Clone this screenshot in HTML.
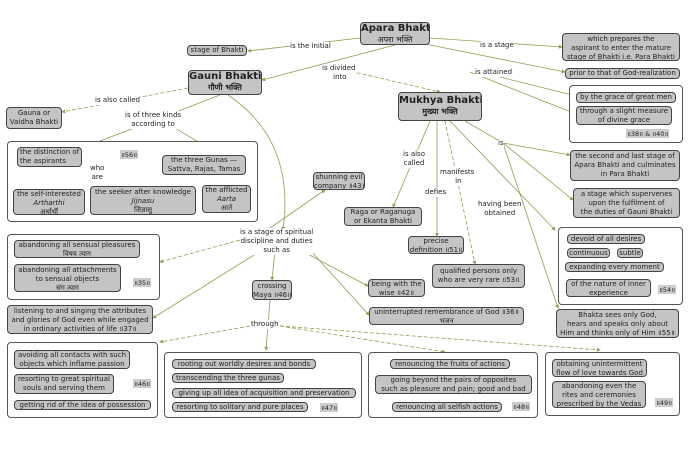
<!DOCTYPE html>
<html><head><meta charset="utf-8"><style>
body{margin:0;width:690px;height:456px;background:#fff;position:relative;overflow:hidden;font-family:"DejaVu Sans","Liberation Sans","Noto Sans CJK SC",sans-serif;font-size:7px;color:#222}
.n{position:absolute;background:#c4c4c4;border:1px solid #444;border-radius:4px;text-align:center;line-height:9px;box-sizing:border-box;padding:0;white-space:nowrap;overflow:hidden}
.c{position:absolute;border:1px solid #555;border-radius:4px;background:#fff;box-sizing:border-box}
.t{position:absolute;text-align:center;line-height:9px;white-space:nowrap;background:#fff}
.b{font-weight:bold;font-size:10px;line-height:11px}
.tag{position:absolute;background:#ccc;font-size:6.5px;padding:0 1px}
svg{position:absolute;left:0;top:0}
</style></head><body>
<svg width="690" height="456"><defs><marker id="a" markerWidth="5" markerHeight="5" refX="4" refY="2.5" orient="auto"><path d="M0 0 L5 2.5 L0 5z" fill="#9a9a55"/></marker></defs>
<g stroke="#9a9a55" stroke-width="0.8" fill="none" marker-end="url(#a)">
<path d="M360 38 L248 51"/><path d="M395 45 L262 80"/><path d="M345 70 L440 92" stroke-dasharray="4 2"/>
<path d="M430 38 L562 47"/><path d="M425 44 L565 72"/><path d="M480 72 L576 96"/><path d="M470 72 L576 114"/>
<path d="M188 88 L62 112" stroke-dasharray="4 2"/><path d="M220 95 L82 148"/><path d="M170 125 L220 155"/>
<path d="M85 172 L40 189"/><path d="M110 172 L140 186"/><path d="M110 172 L218 185" stroke-dasharray="4 2"/>
<path d="M228 95 C280 130 290 180 283 230"/><path d="M270 228 L325 190"/>
<path d="M430 121 L393 207"/><path d="M437 121 L437 236"/><path d="M445 121 L475 264" stroke-dasharray="4 2"/>
<path d="M450 121 L555 230"/><path d="M503 143 L570 155"/><path d="M503 143 L573 200"/><path d="M503 143 L558 308"/>
<path d="M240 240 L160 262" stroke-dasharray="4 2"/><path d="M262 250 L153 318"/><path d="M275 250 L272 280"/>
<path d="M300 250 L368 286"/><path d="M310 250 L369 315"/>
<path d="M270 300 L266 350"/><path d="M250 326 L160 342" stroke-dasharray="4 2"/>
<path d="M280 326 L445 352" stroke-dasharray="4 2"/><path d="M280 326 L600 350" stroke-dasharray="4 2"/>
</g><path d="M465 121 L503 143" stroke="#9a9a55" stroke-width="0.8"/></svg>
<div class="n b" style="left:360px;top:22px;width:70px;height:23px">Apara Bhakti<br><span style="font-weight:normal;font-size:8px">अपरा भक्ति</span></div>
<div class="n" style="left:187px;top:45px;width:60px;height:11px">stage of Bhakti</div>
<div class="t" style="left:290px;top:42px">is the initial</div>
<div class="n b" style="left:188px;top:70px;width:74px;height:25px">Gauni Bhakti<br><span style="font-size:8px">गौणी भक्ति</span></div>
<div class="t" style="left:322px;top:64px">is divided<br>&nbsp;into</div>
<div class="t" style="left:480px;top:41px">is a stage</div>
<div class="n" style="left:562px;top:33px;width:118px;height:28px;padding-top:1px">which prepares the<br>aspirant to enter the mature<br>stage of Bhakti i.e. Para Bhakti</div>
<div class="n" style="left:565px;top:68px;width:115px;height:11px">prior to that of God-realization</div>
<div class="t" style="left:475px;top:68px">is attained</div>
<div class="c" style="left:569px;top:85px;width:114px;height:58px"></div>
<div class="n" style="left:576px;top:92px;width:100px;height:11px">by the grace of great men</div>
<div class="n" style="left:576px;top:106px;width:96px;height:19px">through a slight measure<br>of divine grace</div>
<div class="tag" style="left:626px;top:129px">॥38॥ &amp; ॥40॥</div>
<div class="n b" style="left:398px;top:92px;width:84px;height:29px;padding-top:2px">Mukhya Bhakti<br><span style="font-size:8px">मुख्या भक्ति</span></div>
<div class="n" style="left:6px;top:107px;width:56px;height:22px;padding-top:1px">Gauna or<br>Vaidha Bhakti</div>
<div class="t" style="left:95px;top:96px">is also called</div>
<div class="t" style="left:125px;top:111px">is of three kinds<br>according to</div>
<div class="c" style="left:7px;top:141px;width:251px;height:81px"></div>
<div class="n" style="left:17px;top:147px;width:65px;height:20px;text-align:left;padding:0 2px">the distinction of<br>the aspirants</div>
<div class="tag" style="left:120px;top:150px">॥56॥</div>
<div class="n" style="left:162px;top:155px;width:84px;height:20px">the three Gunas —<br>Sattva, Rajas, Tamas</div>
<div class="t" style="left:90px;top:164px">who<br>are</div>
<div class="n" style="left:13px;top:189px;width:72px;height:26px">the self-interested<br><i>Artharthi</i><br>अर्थार्थी</div>
<div class="n" style="left:90px;top:186px;width:106px;height:29px;padding-top:1px">the seeker after knowledge<br><i>Jijnasu</i><br>जिज्ञासु</div>
<div class="n" style="left:202px;top:185px;width:49px;height:28px">the afflicted<br><i>Aarta</i><br>आर्त</div>
<div class="n" style="left:313px;top:172px;width:52px;height:18px">shunning evil<br>company ॥43॥</div>
<div class="t" style="left:403px;top:150px">is also<br>called</div>
<div class="t" style="left:440px;top:168px">manifests<br>&nbsp;in</div>
<div class="t" style="left:425px;top:188px">defies</div>
<div class="t" style="left:478px;top:200px">having been<br>obtained</div>
<div class="t" style="left:498px;top:139px">is</div>
<div class="n" style="left:570px;top:150px;width:110px;height:31px;padding-top:1px">the second and last stage of<br>Apara Bhakti and culminates<br>in Para Bhakti</div>
<div class="n" style="left:573px;top:188px;width:107px;height:30px;padding-top:1px">a stage which supervenes<br>upon the fulfilment of<br>the duties of Gauni Bhakti</div>
<div class="n" style="left:344px;top:207px;width:78px;height:19px">Raga or Raganuga<br>or Ekanta Bhakti</div>
<div class="n" style="left:408px;top:236px;width:56px;height:18px">precise<br>definition ॥51॥</div>
<div class="n" style="left:432px;top:264px;width:93px;height:24px;padding-top:2px">qualified persons only<br>who are very rare ॥53॥</div>
<div class="c" style="left:558px;top:227px;width:125px;height:78px"></div>
<div class="n" style="left:567px;top:234px;width:78px;height:10px;line-height:8px">devoid of all desires</div>
<div class="n" style="left:567px;top:248px;width:43px;height:10px;line-height:8px">continuous</div>
<div class="n" style="left:617px;top:248px;width:26px;height:10px;line-height:8px">subtle</div>
<div class="n" style="left:565px;top:262px;width:99px;height:10px;line-height:8px">expanding every moment</div>
<div class="n" style="left:566px;top:279px;width:85px;height:18px">of the nature of inner<br>experience</div>
<div class="tag" style="left:658px;top:285px">॥54॥</div>
<div class="n" style="left:556px;top:309px;width:123px;height:29px;padding-top:1px">Bhakta sees only God,<br>hears and speaks only about<br>Him and thinks only of Him ॥55॥</div>
<div class="t" style="left:240px;top:228px">is a stage of spiritual<br>discipline and duties<br>such as</div>
<div class="n" style="left:368px;top:279px;width:57px;height:18px">being with the<br>wise ॥42॥</div>
<div class="n" style="left:369px;top:307px;width:155px;height:18px">uninterrupted remembrance of God ॥36॥<br>भजन</div>
<div class="c" style="left:7px;top:234px;width:153px;height:66px"></div>
<div class="n" style="left:14px;top:240px;width:126px;height:18px">abandoning all sensual pleasures<br>विषय त्याग</div>
<div class="n" style="left:14px;top:264px;width:107px;height:28px;padding-top:1px">abandoning all attachments<br>to sensual objects<br>संग त्याग</div>
<div class="tag" style="left:133px;top:278px">॥35॥</div>
<div class="n" style="left:252px;top:280px;width:40px;height:20px;padding-top:1px">crossing<br>Maya ॥46॥</div>
<div class="n" style="left:7px;top:305px;width:146px;height:29px;padding-top:1px">listening to and singing the attributes<br>and glories of God even while engaged<br>in ordinary activities of life ॥37॥</div>
<div class="t" style="left:251px;top:320px">through</div>
<div class="c" style="left:7px;top:342px;width:151px;height:76px"></div>
<div class="n" style="left:14px;top:350px;width:116px;height:19px">avoiding all contacts with such<br>objects which inflame passion</div>
<div class="n" style="left:14px;top:374px;width:100px;height:20px">resorting to great spiritual<br>souls and serving them</div>
<div class="n" style="left:14px;top:400px;width:137px;height:10px;line-height:8px">getting rid of the idea of possession</div>
<div class="tag" style="left:133px;top:379px">॥46॥</div>
<div class="c" style="left:164px;top:352px;width:198px;height:66px"></div>
<div class="n" style="left:172px;top:359px;width:144px;height:10px;line-height:8px">rooting out worldly desires and bonds</div>
<div class="n" style="left:172px;top:373px;width:112px;height:10px;line-height:8px">transcending the three gunas</div>
<div class="n" style="left:172px;top:388px;width:184px;height:10px;line-height:8px">giving up all idea of acquisition and preservation</div>
<div class="n" style="left:172px;top:402px;width:136px;height:10px;line-height:8px">resorting to solitary and pure places</div>
<div class="tag" style="left:320px;top:403px">॥47॥</div>
<div class="c" style="left:368px;top:352px;width:170px;height:66px"></div>
<div class="n" style="left:390px;top:359px;width:120px;height:10px;line-height:8px">renouncing the fruits of actions</div>
<div class="n" style="left:375px;top:375px;width:157px;height:19px">going beyond the pairs of opposites<br>such as pleasure and pain; good and bad</div>
<div class="n" style="left:392px;top:402px;width:110px;height:10px;line-height:8px">renouncing all selfish actions</div>
<div class="tag" style="left:512px;top:402px">॥48॥</div>
<div class="c" style="left:545px;top:352px;width:135px;height:64px"></div>
<div class="n" style="left:552px;top:359px;width:95px;height:18px">obtaining unintermittent<br>flow of love towards God</div>
<div class="n" style="left:552px;top:381px;width:94px;height:27px">abandoning even the<br>rites and ceremonies<br>prescribed by the Vedas</div>
<div class="tag" style="left:655px;top:398px">॥49॥</div>
</body></html>
